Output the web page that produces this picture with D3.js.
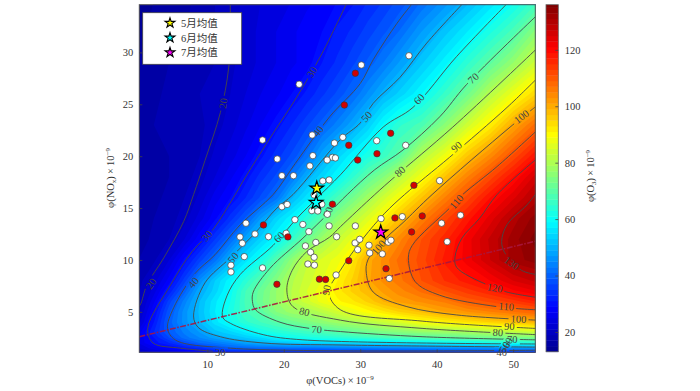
<!DOCTYPE html>
<html>
<head>
<meta charset="utf-8">
<script src="https://cdn.jsdelivr.net/npm/d3@7"></script>
<style>
    body { margin: 0; background: #fff; }
    svg { display: block; }
    text { font-family: "Liberation Serif", "Noto Sans CJK SC", serif; fill: #333; }
</style>
</head>
<body>
<div id="chart"></div>
<script>
// O3 surface: one row per nox value, one column per voc value
const vocCols = [1, 3, 5, 7, 9, 11, 13, 15, 17, 19, 21, 23, 25, 27, 29, 31, 33, 35, 38, 41, 44, 47, 50, 53];
const noxRows = [1, 1.5, 2, 2.5, 3, 4, 5, 6, 7, 8, 10, 12, 14, 16, 18, 20, 23, 26, 29, 32, 35];
const o3Grid = [
    [20, 22, 23.5, 25, 26, 27, 28, 28.5, 29, 29, 29.5, 29.5, 30, 30, 30, 30, 30.5, 30.5, 30.5, 31, 31, 31, 31, 31],
    [23, 26, 28.5, 31, 33.5, 37, 40, 40.5, 41, 41.5, 42, 42, 42.5, 43, 43, 43.5, 44, 44, 44.5, 45, 45.5, 46, 46.5, 47],
    [25, 30, 33, 37, 41, 43, 45, 48, 50, 51.5, 52.5, 53.5, 54, 54.5, 55, 55.5, 56, 57, 58, 59, 60, 61, 62, 63],
    [25, 31, 37, 42, 45, 48, 51, 53, 55, 58, 60.5, 62, 63, 64, 65, 66, 67, 68, 69, 70, 71.5, 72.5, 73.5, 74],
    [26, 33, 39, 43.5, 47, 52, 54, 57, 61, 63, 64.5, 66, 67.5, 69, 70.5, 72, 73.5, 74.5, 76, 77, 78, 79.5, 81, 83],
    [22, 31, 40, 46, 51, 56, 60.5, 64.5, 67, 69.5, 72, 74, 76, 78, 79.5, 81, 83, 85, 89, 91, 93, 95, 97, 99],
    [20, 29, 38.5, 46, 51.5, 57, 62, 67, 70, 75, 78, 79, 81.5, 84.5, 87.5, 90, 92.5, 95, 97.5, 101, 103, 105, 107, 109],
    [19, 26.5, 36, 44, 51, 56.5, 61, 67.5, 72.5, 77, 81, 84, 88, 90.5, 92.5, 95.5, 99, 101.5, 103.5, 105.5, 109.5, 111.5, 114, 117],
    [18.5, 24, 31.5, 40, 49, 54, 60, 67, 72, 77, 81, 85, 88.5, 92, 95.5, 98.5, 101.5, 104, 107.5, 111, 114, 117, 120.5, 123],
    [18, 22, 28, 36, 45.5, 53, 58.5, 64, 69.5, 75, 80.5, 84, 87, 91, 95.5, 100.5, 103.5, 106, 111, 115, 118, 121, 125, 127.5],
    [17, 18.5, 23, 29.5, 36, 42, 50, 56, 61.5, 69, 76, 82.5, 85.5, 88, 92.5, 100, 103.5, 107.5, 112, 117.5, 122, 127, 132, 134],
    [16, 17.5, 19, 23, 28.5, 35, 41, 48.5, 54, 59, 65, 72, 78, 83, 87.5, 92.5, 99, 104, 111, 116, 122, 127.5, 132, 136],
    [16, 17, 18, 20, 24, 28.5, 34, 39.5, 47, 54, 58.5, 64, 70, 76, 81, 86, 91, 97, 105, 112, 118, 124, 130, 134],
    [15.5, 16.5, 17.5, 19, 21.5, 26, 29, 33, 37.5, 42, 50.5, 56, 62, 67.5, 73, 78.5, 84, 89, 97, 105, 112, 119, 124.5, 130],
    [15.5, 16.5, 17, 18, 20, 23, 26.5, 30, 34, 37.5, 42.5, 49.5, 54.5, 59, 64.7, 70.5, 75, 81, 88.5, 97, 105, 112, 119, 126],
    [15.5, 16.5, 17, 18, 19, 21.5, 24, 27, 30.5, 34, 37.5, 42, 48.5, 54, 58.5, 62.5, 66, 70, 81, 88, 97, 104, 111.5, 119],
    [15.5, 17, 17.5, 18, 18.5, 20, 22, 24.5, 27, 30, 33, 36.5, 40, 44, 48.5, 53.5, 59.5, 64.5, 68, 75.5, 84, 91.5, 100.5, 108],
    [15.5, 16.5, 17.5, 18, 19, 19.5, 21, 23, 25, 26.5, 29, 31.5, 34.5, 37.5, 41, 45.5, 50, 53.5, 59, 65.5, 72.5, 81, 88, 95],
    [15, 16, 17, 17.5, 18, 19, 20.5, 22, 23.5, 25, 26.5, 28, 31, 33.5, 36.5, 39.5, 43, 47, 52.5, 58, 64.5, 70.5, 77, 84],
    [14.5, 15.5, 16, 17, 18, 19, 20, 22, 23.5, 25, 26.5, 28, 29, 31.5, 33.5, 36, 38.5, 41, 47, 52, 57, 62.5, 68, 76],
    [14, 15, 15.5, 16.5, 17.5, 19, 20, 21.5, 23, 24, 25, 26.5, 27.5, 29, 30.5, 33, 35, 37.5, 41, 45.5, 50, 55, 60, 66]
];

// traced isolines, [voc, nox] from one frame edge to the other
const contourLevels = [20, 30, 40, 50, 60, 70, 80, 90, 100, 110, 120, 130];
const contourTraces = [
    [[1, 5.5], [1.25, 5.7], [2.1, 7.6], [4.3, 10.2], [6.9, 13.7], [8.2, 16.3], [9.7, 19.6], [11.7, 24.2], [12.8, 28.6], [13, 34.7]],
    [[12.6, 1.1], [6.5, 1.5], [2.9, 2], [2.2, 3.4], [5.2, 7.6], [8, 10.8], [10.8, 13], [13.4, 16], [15, 18], [18.6, 22.2], [21.7, 25.7], [25, 29.9], [28.2, 34.7]],
    [[53, 1.3], [13, 1.5], [5.8, 2.3], [4.8, 3.4], [5.6, 5.4], [8.4, 8.7], [11, 10.5], [14.3, 13.4], [18.6, 16.3], [21.5, 19.3], [26, 23.8], [30, 27], [31.7, 29.3], [34.8, 32.8], [36.8, 34.7]],
    [[53, 1.6], [28, 1.8], [17.3, 2], [11.7, 2.6], [8.8, 3.5], [8.2, 4.6], [9.7, 7.8], [13, 10.2], [16, 12.4], [19.1, 15], [21.2, 16.3], [27.4, 21.6], [30, 23.2], [31.7, 25.1], [35.2, 27.6], [38.7, 30.9], [43.4, 34.7]],
    [[53, 1.9], [22.5, 2.3], [17.3, 2.8], [13, 3.9], [12, 4.5], [12.6, 6.6], [14.3, 8.6], [18.6, 11.4], [21.7, 14], [24.4, 16], [27.4, 18.2], [33, 22.8], [36.9, 24.7], [42.6, 29.6], [49.2, 34.7]],
    [[53, 2.3], [38.2, 2.6], [27.4, 3.1], [23.4, 3.4], [19.5, 4], [16.3, 5.2], [15.9, 6], [16, 6.9], [18.2, 9.2], [22.5, 12.1], [26, 14.6], [28.3, 16.3], [31.9, 18.7], [35.6, 20.6], [40.4, 23.8], [43.9, 26.9], [53, 33.5]],
    [[53, 2.8], [38.2, 3.4], [27.4, 4.2], [21.2, 5.5], [20.4, 7.1], [21.1, 9], [23, 10.8], [26, 12.2], [27.4, 13.2], [31.9, 16.3], [34.5, 18], [42.1, 22.8], [53, 30.3]],
    [[53, 3.4], [38.2, 4.1], [27.4, 5.2], [25.9, 6.9], [27.4, 9], [30.4, 12.1], [33.2, 14.5], [35.8, 16.3], [41.7, 19.9], [49.2, 24.7], [53, 27.4]],
    [[53, 4.2], [42.6, 4.7], [36.1, 5.5], [31.7, 6.9], [30.8, 8.7], [31, 10], [33.5, 12.2], [35.6, 13.6], [39.4, 16.3], [49.6, 22.8], [53, 24.8]],
    [[53, 5.2], [47.9, 5.5], [40.4, 6.6], [37.2, 7.9], [36.3, 10.2], [36.8, 11.4], [41.7, 15], [43.4, 16.3], [47.9, 19], [53, 22.4]],
    [[53, 6.4], [49.2, 6.9], [46.6, 7.6], [42.6, 9.3], [42.4, 10.3], [43.3, 12.1], [45.6, 14], [47.9, 16.3], [53, 19.7]],
    [[53, 8.6], [51.1, 9], [48.9, 10.7], [48.5, 11.8], [49.2, 13.4], [51.8, 15.3], [53, 16.4]]
];

// inline contour labels
const labelTexts = ["20", "20", "30", "30", "30", "40", "40", "40", "50", "50", "50", "60", "60", "60", "70", "70", "70", "70", "80", "80", "80", "90", "90", "90", "100", "100", "100", "110", "110", "120", "130"];
const labelVoc = [12.1, 2.65, 23.7, 9.96, 11.7, 24.5, 8.2, 48.5, 30.85, 13.4, 48.9, 37.7, 19.4, 49.3, 44.8, 24.3, 49.9, 25.8, 35.2, 22.7, 48, 42.6, 25.6, 49.5, 51.1, 32.4, 50.7, 42.6, 49.1, 47.6, 49.8];
const labelNox = [25.1, 7.7, 28.1, 12.3, 1.1, 22.4, 7.8, 1.1, 23.8, 10.2, 1.6, 25.5, 12.2, 2, 27.5, 3.3, 2.3, 14.6, 18.5, 5, 3, 20.9, 7.1, 3.6, 23.8, 11.2, 4.3, 15.6, 5.5, 7.3, 9.7];
const labelAngle = [-82, -55, -58, -50, 0, -52, -50, 0, -48, -50, -60, -48, -48, -60, -42, 3, 0, -70, -42, 14, 2, -40, -80, 2, -38, -50, 2, -50, 4, 10, 35];

const ridgeVoc = [1.1, 52.9];
const ridgeNox = [2.6, 11.8];

// sampling sites, white and red markers
const whiteVoc = [22.01, 17.22, 23.71, 19.14, 23.8, 19.75, 21.27, 23.41, 26.62, 26.36, 26.75, 25.67, 25.1, 25.93, 30.14, 36.37, 27.72, 32.15, 35.94, 40.38, 23.97, 24.97, 23.67, 24.45, 25.7, 21.45, 22.49, 25.93, 23.28, 26.91, 29.36, 32.72, 24.19, 22.83, 23.51, 23.97, 23.15, 24.01, 26.84, 29.32, 29.93, 29.67, 31.15, 31.24, 32.89, 33.67, 34.02, 33.8, 19.75, 20.44, 15.05, 16.23, 14.27, 18, 14.57, 20.31, 14.83, 13.09, 13.09, 17.22, 35.5, 40.64, 43.12, 41.37];
const whiteNox = [26.93, 21.56, 22.04, 19.73, 20.05, 18.12, 18.12, 19.06, 21.27, 19.89, 19.83, 19.63, 17.61, 17.71, 28.79, 29.68, 21.82, 21.49, 21.05, 17.64, 16.26, 15.37, 14.75, 14.72, 14.4, 13.88, 13.42, 13.28, 12.73, 12.24, 13.28, 13.98, 11.69, 11.35, 10.74, 10.26, 9.61, 9.5, 8.55, 11.64, 11.99, 10.99, 11.42, 10.67, 10.58, 11.71, 11.9, 8.22, 15.13, 15.35, 13.54, 12.5, 12.22, 12.24, 11.61, 12.57, 10.32, 9.49, 8.84, 9.23, 14.17, 13.54, 14.31, 11.76];
const redVoc = [29.36, 27.92, 33.98, 28.5, 29.67, 32.19, 37.02, 26.36, 17.34, 20.54, 19.1, 24.66, 25.47, 28.5, 34.54, 33.37, 38.11, 36.72];
const redNox = [27.99, 24.93, 22.21, 21.05, 19.63, 20.24, 17.2, 15.37, 13.37, 12.22, 7.66, 8.15, 8.12, 9.93, 14.05, 9.16, 14.24, 12.7];

// monthly means
const monthNames = ["5月均值", "6月均值", "7月均值"];
const monthVoc = [24.32, 24.23, 32.68];
const monthNox = [16.91, 15.52, 12.67];
const monthColors = ["#ffff00", "#00ffff", "#ff00ff"];

const xTicks = [10, 20, 30, 40, 50];
const yTicks = [5, 10, 15, 20, 25, 30];
const barTicks = [20, 40, 60, 80, 100, 120];

const width = 700;
const height = 391;
const plot = {left: 139.3, right: 535.3, top: 4.7, bottom: 352.3};
const bar = {left: 546, right: 558.3, top: 4.7, bottom: 351.7};
const o3Min = 13;
const o3Max = 136;
const bandStep = 2;

const x = d3.scaleLinear().domain([1.1, 52.9]).range([plot.left, plot.right]);
const y = d3.scaleLinear().domain([1.1, 34.6]).range([plot.bottom, plot.top]);
const barY = d3.scaleLinear().domain([o3Min, o3Max]).range([bar.bottom, bar.top]);

// jet colormap
const jetStops = [0, 0.125, 0.375, 0.625, 0.875, 1].map(t => o3Min + t * (o3Max - o3Min));
const color = d3.scaleLinear()
    .domain(jetStops)
    .range(["#00008f", "#0000ff", "#00ffff", "#ffff00", "#ff0000", "#800000"])
    .clamp(true);

const svg = d3.select("#chart").append("svg")
    .attr("width", width)
    .attr("height", height)
    .attr("viewBox", [0, 0, width, height]);

const defs = svg.append("defs");
defs.append("clipPath").attr("id", "plot-clip")
    .append("rect")
    .attr("x", plot.left)
    .attr("y", plot.top)
    .attr("width", plot.right - plot.left)
    .attr("height", plot.bottom - plot.top);

// filled bands, the grid is not evenly spaced so indices are mapped back to data values
const indexToValue = (axis, i) => {
    const t = Math.max(0, Math.min(axis.length - 1, i - 0.5));
    const k = Math.min(axis.length - 2, Math.floor(t));
    return axis[k] + (t - k) * (axis[k + 1] - axis[k]);
};
const gridPath = d3.geoPath(d3.geoTransform({
    point(px, py) {
        this.stream.point(x(indexToValue(vocCols, px)), y(indexToValue(noxRows, py)));
    }
}));

const bands = d3.range(o3Min, o3Max, bandStep);
const contours = d3.contours()
    .size([vocCols.length, noxRows.length])
    .thresholds(bands)(o3Grid.flat());

const field = svg.append("g").attr("clip-path", "url(#plot-clip)");
field.append("rect")
    .attr("x", plot.left)
    .attr("y", plot.top)
    .attr("width", plot.right - plot.left)
    .attr("height", plot.bottom - plot.top)
    .attr("fill", color(o3Min));
field.selectAll("path")
    .data(contours)
    .join("path")
    .attr("d", gridPath)
    .attr("fill", d => color(d.value + bandStep / 2));

// gaps in the isolines behind the labels
const labelRows = labelTexts.map((t, i) => ({
    text: t, voc: labelVoc[i], nox: labelNox[i], angle: labelAngle[i]
}));
const mask = defs.append("mask")
    .attr("id", "label-gaps")
    .attr("maskUnits", "userSpaceOnUse")
    .attr("x", 0).attr("y", 0)
    .attr("width", width).attr("height", height);
mask.append("rect").attr("width", width).attr("height", height).attr("fill", "white");
mask.selectAll("rect.gap")
    .data(labelRows)
    .join("rect")
    .attr("class", "gap")
    .attr("x", d => -d.text.length * 2.5 - 2.5)
    .attr("y", -5)
    .attr("width", d => d.text.length * 5 + 5)
    .attr("height", 10)
    .attr("fill", "black")
    .attr("transform", d => `translate(${x(d.voc)},${y(d.nox)}) rotate(${d.angle})`);

const isoLine = d3.line()
    .x(d => x(d[0]))
    .y(d => y(d[1]))
    .curve(d3.curveCatmullRom.alpha(0.5));

svg.append("g")
    .attr("clip-path", "url(#plot-clip)")
    .append("g")
    .attr("mask", "url(#label-gaps)")
    .attr("fill", "none")
    .attr("stroke", "#474747")
    .attr("stroke-width", 0.9)
    .selectAll("path")
    .data(contourTraces)
    .join("path")
    .attr("d", isoLine);

svg.append("g")
    .selectAll("text")
    .data(labelRows)
    .join("text")
    .attr("transform", d => `translate(${x(d.voc)},${y(d.nox)}) rotate(${d.angle})`)
    .attr("text-anchor", "middle")
    .attr("dy", "0.33em")
    .attr("font-size", 10.5)
    .style("fill", "#444")
    .text(d => d.text);

// ridge line
svg.append("line")
    .attr("x1", x(ridgeVoc[0]))
    .attr("y1", y(ridgeNox[0]))
    .attr("x2", x(ridgeVoc[1]))
    .attr("y2", y(ridgeNox[1]))
    .attr("stroke", "#a8163f")
    .attr("stroke-opacity", 0.9)
    .attr("stroke-width", 1.5)
    .attr("stroke-dasharray", "6,1.5,1.5,1.5");

// markers
const addDots = (vocs, noxs, fill) => {
    svg.append("g")
        .selectAll("circle")
        .data(vocs.map((v, i) => [v, noxs[i]]))
        .join("circle")
        .attr("cx", d => x(d[0]))
        .attr("cy", d => y(d[1]))
        .attr("r", 3.2)
        .attr("fill", fill)
        .attr("stroke", "#3a3a3a")
        .attr("stroke-width", 0.7);
};
addDots(whiteVoc, whiteNox, "#ffffff");
addDots(redVoc, redNox, "#d40000");

svg.append("g")
    .selectAll("path")
    .data(monthNames)
    .join("path")
    .attr("d", d3.symbol(d3.symbolStar, 58))
    .attr("transform", (d, i) => `translate(${x(monthVoc[i])},${y(monthNox[i])})`)
    .attr("fill", (d, i) => monthColors[i])
    .attr("stroke", "#000")
    .attr("stroke-width", 1.2);

// frame and axes
svg.append("rect")
    .attr("x", plot.left)
    .attr("y", plot.top)
    .attr("width", plot.right - plot.left)
    .attr("height", plot.bottom - plot.top)
    .attr("fill", "none")
    .attr("stroke", "#555")
    .attr("stroke-width", 1);

const styleAxis = g => {
    g.select(".domain").remove();
    g.selectAll("line").attr("stroke", "#444").attr("stroke-width", 0.8);
    g.selectAll("text").attr("font-size", 10.5).style("font-family", null);
};

svg.append("g")
    .attr("transform", `translate(0,${plot.bottom})`)
    .call(d3.axisBottom(x).tickValues(xTicks).tickSize(-3).tickPadding(8))
    .call(styleAxis)
    .attr("font-family", null);

svg.append("g")
    .attr("transform", `translate(${plot.left},0)`)
    .call(d3.axisLeft(y).tickValues(yTicks).tickSize(-3).tickPadding(6))
    .call(styleAxis)
    .attr("font-family", null);

const addTitle = (tx, ty, rotate, parts) => {
    const t = svg.append("text")
        .attr("transform", `translate(${tx},${ty}) rotate(${rotate})`)
        .attr("text-anchor", "middle")
        .attr("font-size", 10.5);
    parts.forEach(p => {
        t.append("tspan")
            .attr("dy", p.shift || 0)
            .attr("font-size", p.size || 10.5)
            .text(p.text);
    });
};

addTitle(340, 384, 0, [
    {text: "φ(VOCs)\u2009×\u200910"}, {text: "−9", size: 7, shift: -4}
]);
addTitle(114, 178, -90, [
    {text: "φ(NO"}, {text: "x", size: 7, shift: 2}, {text: ")\u2009×\u200910", shift: -2}, {text: "−9", size: 7, shift: -4}
]);
addTitle(594, 176, -90, [
    {text: "φ(O"}, {text: "3", size: 7, shift: 2}, {text: ")\u2009×\u200910", shift: -2}, {text: "−9", size: 7, shift: -4}
]);

// colorbar
svg.append("g")
    .selectAll("rect")
    .data(bands)
    .join("rect")
    .attr("x", bar.left)
    .attr("y", d => barY(Math.min(d + bandStep, o3Max)))
    .attr("width", bar.right - bar.left)
    .attr("height", d => barY(d) - barY(Math.min(d + bandStep, o3Max)) + 0.4)
    .attr("fill", d => color(d + bandStep / 2));

svg.append("rect")
    .attr("x", bar.left)
    .attr("y", bar.top)
    .attr("width", bar.right - bar.left)
    .attr("height", bar.bottom - bar.top)
    .attr("fill", "none")
    .attr("stroke", "#666")
    .attr("stroke-width", 0.8);

svg.append("g")
    .attr("transform", `translate(${bar.right},0)`)
    .call(d3.axisRight(barY).tickValues(barTicks).tickSize(-3).tickPadding(6.5))
    .call(styleAxis)
    .attr("font-family", null);

// legend
const legend = svg.append("g");
legend.append("rect")
    .attr("x", 142.7)
    .attr("y", 12.7)
    .attr("width", 99)
    .attr("height", 51.6)
    .attr("fill", "#fff")
    .attr("stroke", "#444")
    .attr("stroke-width", 0.8);

const legendY = d3.scalePoint().domain(monthNames).range([23, 52.5]);
legend.selectAll("path")
    .data(monthNames)
    .join("path")
    .attr("d", d3.symbol(d3.symbolStar, 30))
    .attr("transform", d => `translate(170,${legendY(d)})`)
    .attr("fill", (d, i) => monthColors[i])
    .attr("stroke", "#000")
    .attr("stroke-width", 1.1);
legend.selectAll("text")
    .data(monthNames)
    .join("text")
    .attr("x", 181)
    .attr("y", d => legendY(d))
    .attr("dy", "0.36em")
    .attr("font-size", 10.5)
    .text(d => d);
</script>
</body>
</html>
